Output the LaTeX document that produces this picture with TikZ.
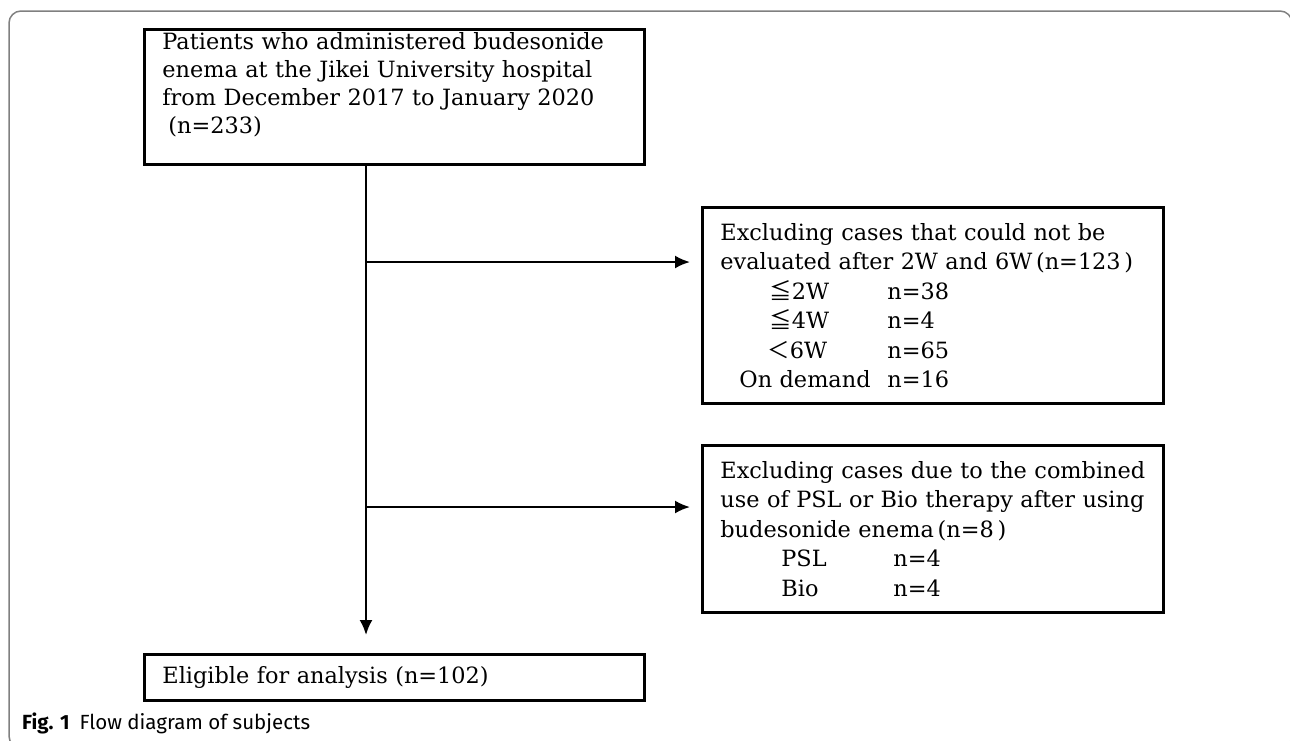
\documentclass[tikz,border=0pt]{standalone}
\usepackage{fontspec}
\setmainfont{DejaVu Serif}
\setsansfont{Fira Sans}
\newfontfamily\jpf{Noto Sans CJK JP}
\usetikzlibrary{arrows.meta}
\begin{document}
\begin{tikzpicture}[x=1pt,y=-1pt,
  box/.style={draw, line width=2.8pt, anchor=north west, align=left,
    inner xsep=18pt, inner ysep=0pt, font=\fontsize{22.4}{29.5}\selectfont},
  arr/.style={line width=2.2pt, -{Latex[length=15pt,width=13pt]}},
  frame/.style={draw=black!50, line width=1.5pt, rounded corners=12pt},
  caption/.style={anchor=west, inner sep=0pt, font=\sffamily\fontsize{20.5}{23}\selectfont}]
\useasboundingbox (0,0) rectangle (1290,740);
\clip (0,0) rectangle (1290,740);
\draw[frame] (9,11) rectangle (1292,748);

\node[box, text width=464pt, minimum height=135pt, font=\fontsize{22.4}{28}\selectfont] (top) at (143,28)
  {Patients who administered budesonide\\
   enema at the Jikei University hospital\\
   from December 2017 to January 2020\\
   \hspace*{6pt}(n=233)\rule[-28pt]{0pt}{1pt}};

\node[box, text width=425pt, minimum height=196pt] (ex1) at (701,206)
  {Excluding cases that could not be\\
   evaluated after 2W and 6W\,(n=123\,)\\
   \makebox[167pt][l]{\hspace*{49pt}{\jpf ≦}2W}n=38\\
   \makebox[167pt][l]{\hspace*{49pt}{\jpf ≦}4W}n=4\\
   \makebox[167pt][l]{\hspace*{47pt}{\jpf ＜}6W}n=65\\
   \makebox[167pt][l]{\hspace*{19pt}On demand}n=16};

\node[box, text width=425pt, minimum height=167pt] (ex2) at (701,444)
  {Excluding cases due to the combined\\
   \mbox{use of PSL or Bio therapy after using}\\
   budesonide enema\,(n=8\,)\\
   \makebox[173pt][l]{\hspace*{61pt}PSL}n=4\\
   \makebox[173pt][l]{\hspace*{61pt}Bio}n=4};

\node[box, text width=464pt, minimum height=46pt] (elig) at (143,653)
  {Eligible for analysis (n=102)};

\coordinate (vx) at (366,0);
\coordinate (j1) at (366,262);
\coordinate (j2) at (366,507);
\draw[arr, shorten >=18pt] (top.south -| vx) -- (elig.north -| vx);
\draw[arr, shorten >=11pt] (j1) -- (j1 -| ex1.west);
\draw[arr, shorten >=11pt] (j2) -- (j2 -| ex2.west);

\node[caption] (cap) at (22,723) {\textbf{Fig. 1}\hspace{10pt}Flow diagram of subjects};
\end{tikzpicture}
\end{document}
